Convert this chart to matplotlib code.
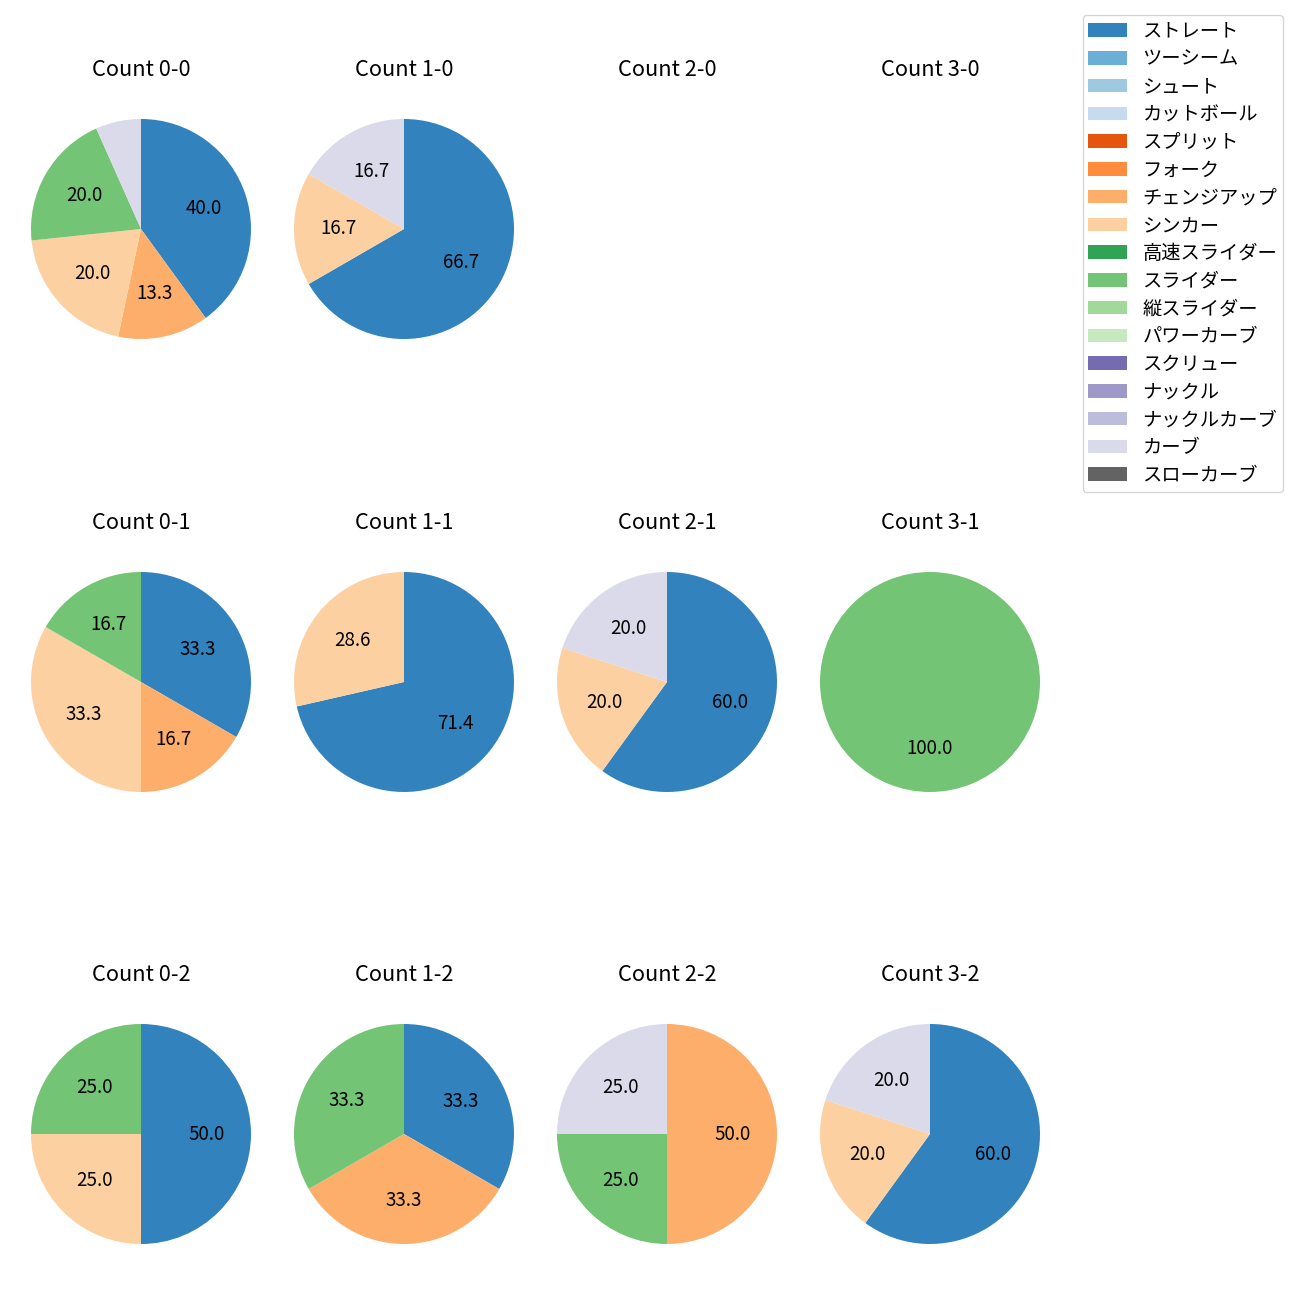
import matplotlib
matplotlib.use("Agg")
import matplotlib.pyplot as plt
from matplotlib.patches import Patch

plt.rcParams['font.family'] = ['Noto Sans CJK JP', 'DejaVu Sans']

pitch_types = ['ストレート', 'ツーシーム', 'シュート', 'カットボール', 'スプリット', 'フォーク',
               'チェンジアップ', 'シンカー', '高速スライダー', 'スライダー', '縦スライダー',
               'パワーカーブ', 'スクリュー', 'ナックル', 'ナックルカーブ', 'カーブ', 'スローカーブ']

# pitch counts per ball-strike count, in pitch_types order
count_0_0 = [6, 0, 0, 0, 0, 0, 2, 3, 0, 3, 0, 0, 0, 0, 0, 1, 0]
count_1_0 = [4, 0, 0, 0, 0, 0, 0, 1, 0, 0, 0, 0, 0, 0, 0, 1, 0]
count_2_0 = [0] * 17
count_3_0 = [0] * 17
count_0_1 = [2, 0, 0, 0, 0, 0, 1, 2, 0, 1, 0, 0, 0, 0, 0, 0, 0]
count_1_1 = [5, 0, 0, 0, 0, 0, 0, 2, 0, 0, 0, 0, 0, 0, 0, 0, 0]
count_2_1 = [3, 0, 0, 0, 0, 0, 0, 1, 0, 0, 0, 0, 0, 0, 0, 1, 0]
count_3_1 = [0, 0, 0, 0, 0, 0, 0, 0, 0, 1, 0, 0, 0, 0, 0, 0, 0]
count_0_2 = [2, 0, 0, 0, 0, 0, 0, 1, 0, 1, 0, 0, 0, 0, 0, 0, 0]
count_1_2 = [1, 0, 0, 0, 0, 0, 1, 0, 0, 1, 0, 0, 0, 0, 0, 0, 0]
count_2_2 = [0, 0, 0, 0, 0, 0, 2, 0, 0, 1, 0, 0, 0, 0, 0, 1, 0]
count_3_2 = [3, 0, 0, 0, 0, 0, 0, 1, 0, 0, 0, 0, 0, 0, 0, 1, 0]

grid = [
    [('Count 0-0', count_0_0), ('Count 1-0', count_1_0), ('Count 2-0', count_2_0), ('Count 3-0', count_3_0)],
    [('Count 0-1', count_0_1), ('Count 1-1', count_1_1), ('Count 2-1', count_2_1), ('Count 3-1', count_3_1)],
    [('Count 0-2', count_0_2), ('Count 1-2', count_1_2), ('Count 2-2', count_2_2), ('Count 3-2', count_3_2)],
]

cmap = plt.get_cmap('tab20c')
colors = [cmap(i) for i in range(17)]

W, H = 1300, 1300
fig = plt.figure(figsize=(13, 13), dpi=100)

col_cx = [141, 404, 667, 930]
row_cy = [229, 682, 1134]
size = 275

for r, row in enumerate(grid):
    for c, (title, vals) in enumerate(row):
        cx, cy = col_cx[c], row_cy[r]
        ax = fig.add_axes([(cx - size / 2) / W, 1 - (cy + size / 2) / H, size / W, size / H])
        v = [x for x in vals if x > 0]
        cols = [colors[i] for i, x in enumerate(vals) if x > 0]
        if v:
            ax.pie(v, colors=cols, startangle=90, counterclock=False,
                   autopct=lambda p: f'{p:.1f}' if p >= 10 else '',
                   pctdistance=0.6, textprops={'fontsize': 13.5})
            ax.set_xlim(-1.25, 1.25)
            ax.set_ylim(-1.25, 1.25)
            ax.set_aspect('equal')
        ax.axis('off')
        ax.set_title(title, fontsize=15.7, pad=11.5)

handles = [Patch(facecolor=colors[i], label=pitch_types[i]) for i in range(17)]
fig.legend(handles=handles, loc='upper right', bbox_to_anchor=(1283 / W, 1 - 15 / H),
           borderaxespad=0, fontsize=13.9, labelspacing=0.35, borderpad=0.3)

fig.savefig('out.png', dpi=100)
